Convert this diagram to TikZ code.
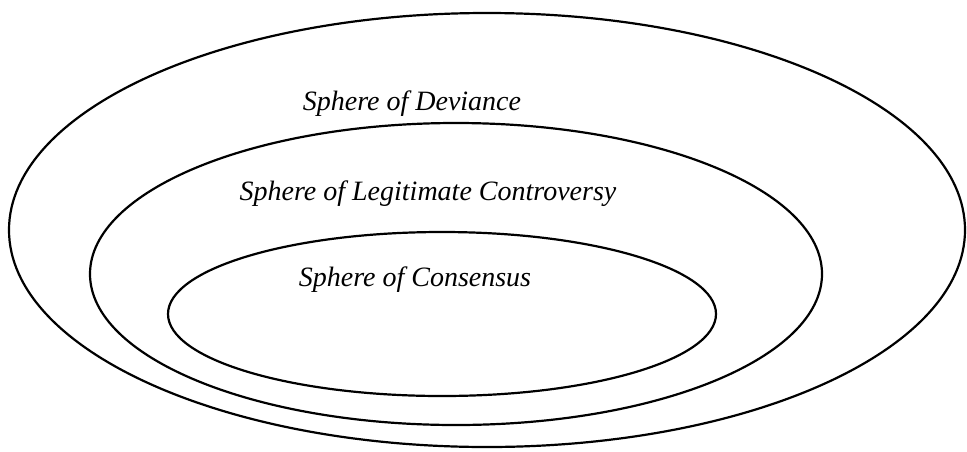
\documentclass[tikz,border=0pt]{standalone}
\usepackage{fontspec}
\setmainfont{Liberation Serif}
\usepackage{tikz}
\tikzset{
  spherering/.style={draw=black,line width=2.2pt},
  spherelabel/.style={font=\fontsize{28}{32}\selectfont\itshape,inner sep=0pt}
}
\begin{document}
\begin{tikzpicture}[x=1pt,y=-1pt]
  \useasboundingbox (0,0) rectangle (967,451);
  % nested spheres
  \draw[spherering] (487,230) ellipse [x radius=478,y radius=217];
  \draw[spherering] (456,274) ellipse [x radius=366,y radius=151];
  \draw[spherering] (442,314) ellipse [x radius=274,y radius=82];
  \node[spherelabel] (deviance) at (412,104) {Sphere of Deviance};
  \node[spherelabel] (controversy) at (428,194) {Sphere of Legitimate Controversy};
  \node[spherelabel] (consensus) at (415,280) {Sphere of Consensus};
\end{tikzpicture}
\end{document}
